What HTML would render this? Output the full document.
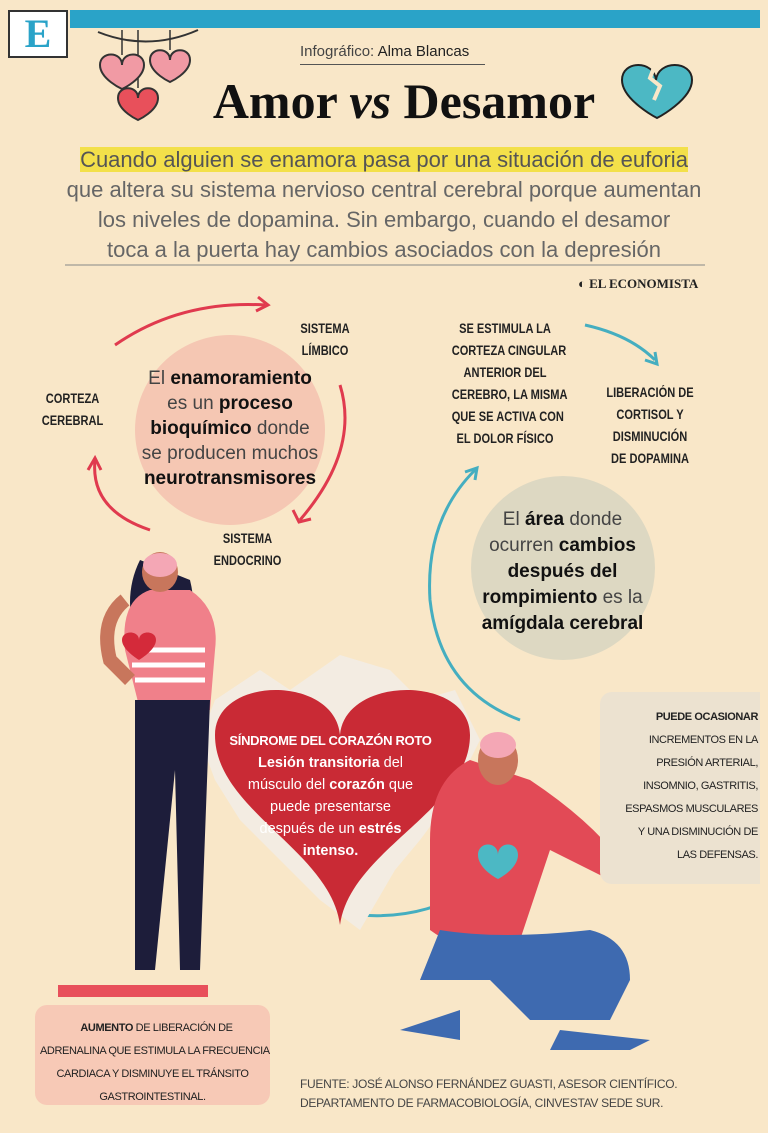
<!DOCTYPE html>
<html><head><meta charset="utf-8"><style>
body{margin:0;}
#p{position:relative;width:768px;height:1133px;background:#f9e7c8;overflow:hidden;font-family:"Liberation Sans",sans-serif;}
.a{position:absolute;}
.c{font-weight:bold;font-size:13.5px;line-height:22px;text-align:center;color:#222;white-space:nowrap;transform:scaleX(0.82);}
.n{font-size:11px;letter-spacing:-0.4px;white-space:nowrap;}
.b{color:#111;font-weight:bold}
</style></head><body><div id="p">
<div class="a" style="left:70px;top:10px;width:690px;height:18px;background:#2aa3c8"></div>
<div class="a" style="left:8px;top:10px;width:56px;height:44px;background:#fff;border:2px solid #333;font-family:'Liberation Serif',serif;font-size:40px;color:#2aa3c8;text-align:center;line-height:44px;font-weight:bold">E</div>
<div class="a" style="left:300px;top:43px;width:185px;border-bottom:1px solid #555;font-size:15px;color:#444;padding-bottom:4px">Infográfico: <span style="color:#222">Alma Blancas</span></div>
<div class="a" style="left:0;top:72px;width:808px;text-align:center;font-family:'Liberation Serif',serif;font-weight:bold;font-size:50px;color:#111">Amor <i>vs</i> Desamor</div>
<svg class="a" style="left:0;top:0" width="768" height="1133">
<g stroke="#333" stroke-width="1.5"><line x1="122" y1="30" x2="122" y2="55"/><line x1="170" y1="30" x2="170" y2="50"/><line x1="138" y1="30" x2="138" y2="88"/></g>
<g fill="#f19aa4" stroke="#333" stroke-width="2">
<path d="M100 65 c0-14 22-14 22 0 c0-14 22-14 22 0 c0 14-22 24-22 24 c0 0-22-10-22-24z"/>
<path d="M150 60 c0-13 20-13 20 0 c0-13 20-13 20 0 c0 13-20 22-20 22 c0 0-20-9-20-22z"/>
<path d="M118 98 c0-13 20-13 20 0 c0-13 20-13 20 0 c0 13-20 22-20 22 c0 0-20-9-20-22z" fill="#e8505b"/>
</g>
<path d="M98 32 q50 20 100 -2" stroke="#333" fill="none" stroke-width="2"/>
<path d="M622 80 c0-20 32-20 34 0 c2-20 36-20 36 0 c0 20-35 38-35 38 c0 0-35-18-35-38z" fill="#4cb8c4" stroke="#222" stroke-width="2"/>
<path d="M656 62 l-6 16 10 8 -6 14" stroke="#f9e7c8" stroke-width="4" fill="none"/>
<line x1="65" y1="265" x2="705" y2="265" stroke="#888" stroke-width="1"/>
<circle cx="230" cy="430" r="95" fill="#f5c7b3"/>
<circle cx="563" cy="568" r="92" fill="#ddd8c2"/>
<g stroke="#e03a4e" stroke-width="3" fill="none">
<path d="M115 345 Q180 300 265 305"/><path d="M258 297 l10 8 -12 6"/>
<path d="M340 385 Q360 450 300 520"/><path d="M293 510 l6 12 12 -3"/>
<path d="M150 530 Q90 510 95 460"/><path d="M88 470 l7-12 6 12"/>
</g>
<g stroke="#45aec0" stroke-width="3" fill="none">
<path d="M585 325 Q630 335 655 360"/><path d="M645 360 l12 4 -2-12"/>
<path d="M520 720 Q440 690 430 600 Q425 520 475 470"/><path d="M465 472 l12-4 -2 12"/>
<path d="M360 915 Q420 920 470 890"/><path d="M458 888 l12 2 -6 10"/>
</g>
<path d="M215 700 L260 670 L290 690 L340 655 L390 670 L420 700 L455 690 L480 740 L450 800 L420 840 L395 870 L360 930 L320 900 L280 860 L240 820 L215 780 L200 740z" fill="#f3ece2"/>
<path d="M215 735 c0-60 120-60 125 0 c5-60 130-60 130 0 c0 75-120 115-130 190 c-10-75-125-115-125-190z" fill="#c92a35"/>
<path d="M140 560 q-20 40 0 90 l40 10 q20-40 10-80z" fill="#1d1d3a"/>
<path d="M150 590 q-30 10-25 60 l15 60 h70 l5-60 q5-40-25-60z" fill="#f0808a"/>
<g stroke="#fff" stroke-width="5"><line x1="132" y1="650" x2="205" y2="650"/><line x1="132" y1="665" x2="205" y2="665"/><line x1="135" y1="680" x2="205" y2="680"/></g>
<path d="M125 600 q-25 20-15 60 l20 20" stroke="#c8765c" stroke-width="14" fill="none"/>
<ellipse cx="160" cy="572" rx="18" ry="20" fill="#c8765c"/>
<ellipse cx="160" cy="565" rx="17" ry="12" fill="#f4a7b5"/>
<path d="M122 640 c0-10 17-10 17 0 c0-10 17-10 17 0 c0 10-17 20-17 20 c0 0-17-10-17-20z" fill="#d42a3a"/>
<path d="M135 700 h75 l-10 270 h-20 l-5-200 -20 200 h-20z" fill="#1d1d3a"/>
<rect x="58" y="985" width="150" height="12" fill="#e8505b"/>
<path d="M470 760 q-40 20-40 80 l0 90 q40 30 90 10 l30-90 q20 10 60 30 l10-20 q-30-40-90-80z" fill="#e24a56"/>
<path d="M440 930 q60 10 150 0 q40 10 40 50 l-20 40 h-80 l-40-40 h-70z" fill="#3e6ab0"/>
<path d="M400 1030 l60-20 l0 30z M560 1030 l90 10 l-20 10 h-80z" fill="#3e6ab0"/>
<ellipse cx="498" cy="760" rx="20" ry="25" fill="#c8765c"/>
<ellipse cx="498" cy="745" rx="18" ry="13" fill="#f4a7b5"/>
<path d="M478 855 c0-14 20-14 20 0 c0-14 20-14 20 0 c0 14-20 24-20 24 c0 0-20-10-20-24z" fill="#4cb8c4"/>
<circle cx="633" cy="717" r="5" fill="#4cb8c4"/>
<circle cx="82" cy="1027" r="5" fill="#e03a4e"/>
</svg>
<div class="a" style="left:40px;top:145px;width:688px;text-align:center;font-size:22px;line-height:30px;color:#666"><span style="background:#f3e04a;color:#555">Cuando alguien se enamora pasa por una situación de euforia</span><br>que altera su sistema nervioso central cerebral porque aumentan<br>los niveles de dopamina. Sin embargo, cuando el desamor<br>toca a la puerta hay cambios asociados con la depresión</div>
<div class="a" style="left:578px;top:276px;font-family:'Liberation Serif',serif;font-weight:bold;font-size:13px;color:#222">◐ EL ECONOMISTA</div>
<div class="a" style="left:125px;top:366px;width:210px;text-align:center;font-size:19px;line-height:25px;color:#444">El <span class="b">enamoramiento</span><br>es un <span class="b">proceso</span><br><span class="b">bioquímico</span> donde<br>se producen muchos<br><span class="b">neurotransmisores</span></div>
<div class="a c" style="left:290px;top:318px;width:70px">SISTEMA<br>LÍMBICO</div>
<div class="a c" style="left:35px;top:388px;width:75px">CORTEZA<br>CEREBRAL</div>
<div class="a c" style="left:205px;top:528px;width:85px">SISTEMA<br>ENDOCRINO</div>
<div class="a c" style="left:440px;top:318px;width:130px">SE ESTIMULA LA<br>CORTEZA CINGULAR<br>ANTERIOR DEL<br>CEREBRO, LA MISMA<br>QUE SE ACTIVA CON<br>EL DOLOR FÍSICO</div>
<div class="a c" style="left:595px;top:382px;width:110px">LIBERACIÓN DE<br>CORTISOL Y<br>DISMINUCIÓN<br>DE DOPAMINA</div>
<div class="a" style="left:465px;top:507px;width:195px;text-align:center;font-size:19px;line-height:26px;color:#444">El <span class="b">área</span> donde<br>ocurren <span class="b">cambios</span><br><span class="b">después del</span><br><span class="b">rompimiento</span> es la<br><span class="b">amígdala cerebral</span></div>
<div class="a" style="left:218px;top:730px;width:225px;text-align:center;font-size:14.5px;line-height:22px;color:#fff;white-space:nowrap"><b style="font-size:13px;letter-spacing:-0.3px">SÍNDROME DEL CORAZÓN ROTO</b><br><b>Lesión transitoria</b> del<br>músculo del <b>corazón</b> que<br>puede presentarse<br>después de un <b>estrés</b><br><b>intenso.</b></div>
<div class="a" style="left:600px;top:692px;width:160px;height:192px;background:#ece2d0;border-radius:12px 0 0 12px"></div>
<div class="a n" style="left:610px;top:706px;width:148px;text-align:right;line-height:23px;color:#222"><b>PUEDE OCASIONAR</b><br>INCREMENTOS EN LA<br>PRESIÓN ARTERIAL,<br>INSOMNIO, GASTRITIS,<br>ESPASMOS MUSCULARES<br>Y UNA DISMINUCIÓN DE<br>LAS DEFENSAS.</div>
<div class="a" style="left:35px;top:1005px;width:235px;height:100px;background:#f7c9b6;border-radius:12px"></div>
<div class="a n" style="left:40px;top:1017px;width:225px;text-align:center;line-height:23px;color:#222">&nbsp;&nbsp;&nbsp;<b>AUMENTO</b> DE LIBERACIÓN DE<br>ADRENALINA QUE ESTIMULA LA FRECUENCIA<br>CARDIACA Y DISMINUYE EL TRÁNSITO<br>GASTROINTESTINAL.</div>
<div class="a" style="left:300px;top:1075px;font-size:12px;letter-spacing:-0.3px;white-space:nowrap;line-height:19px;color:#444">FUENTE: JOSÉ ALONSO FERNÁNDEZ GUASTI, ASESOR CIENTÍFICO.<br>DEPARTAMENTO DE FARMACOBIOLOGÍA, CINVESTAV SEDE SUR.</div>
</div></body></html>
